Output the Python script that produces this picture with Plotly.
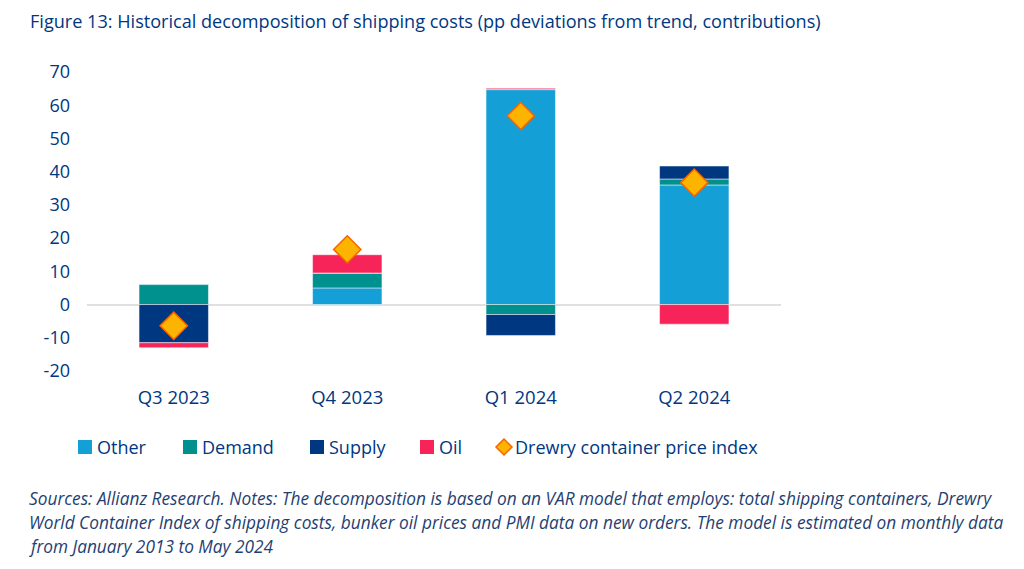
import plotly.graph_objects as go

categories = ["Q3 2023", "Q4 2023", "Q1 2024", "Q2 2024"]
other = [0.0, 5.0, 64.7, 36.0]
demand = [6.0, 4.5, -3.0, 1.8]
supply = [-11.5, 0.0, -6.3, 3.9]
oil = [-1.5, 5.5, 0.4, -5.9]
drewry = [-6.4, 16.6, 56.8, 36.7]

y_tickvals = [-20, -10, 0, 10, 20, 30, 40, 50, 60, 70]
y_ticktext = ["-20", "-10", "0", "10", "20", "30", "40", "50", "60", "70"]

series_names = ["Other", "Demand", "Supply", "Oil"]
series_colors = ["#149FD6", "#00908D", "#003781", "#F62459"]
drewry_name = "Drewry container price index"
title_text = "Figure 13: Historical decomposition of shipping costs (pp deviations from trend, contributions)"

NAVY = "#003781"
FONT = "Open Sans"
OFF = 8  # page body margin offset

# reference pixel geometry of plot area
PL, PR, PT, PB = 87, 781, 72, 371
plot_w, plot_h = PR - PL, PB - PT


def px(x):
    return (x - PL) / plot_w


def py(y):
    return (PB - y) / plot_h


fig = go.Figure()
for name, vals, col in zip(series_names, [other, demand, supply, oil], series_colors):
    fig.add_trace(go.Bar(x=categories, y=vals, name=name, showlegend=False,
                         marker=dict(color=col, line=dict(color="white", width=0.5))))
fig.add_trace(go.Scatter(x=categories, y=drewry, mode="markers", name=drewry_name, showlegend=False,
                         marker=dict(symbol="diamond", size=21, color="#FDB400",
                                     line=dict(color="#F86200", width=1.5))))

shapes = []
ann = []
# title
ann.append(dict(text=title_text, xref="paper", yref="paper", x=px(28), y=py(21),
                xanchor="left", yanchor="middle", showarrow=False,
                font=dict(family=FONT, size=18.1, color=NAVY)))
# custom legend
sym_x = [78, 183, 310, 420]
ly = 447
for sx, name, col in zip(sym_x, series_names, series_colors):
    shapes.append(dict(type="rect", xref="paper", yref="paper", x0=px(sx), x1=px(sx + 14),
                       y0=py(ly + 7), y1=py(ly - 7), fillcolor=col, line=dict(width=0)))
    ann.append(dict(text=name, xref="paper", yref="paper", x=px(sx + 17), y=py(ly),
                    xanchor="left", yanchor="middle", showarrow=False,
                    font=dict(family=FONT, size=18, color=NAVY)))
dx = 504
shapes.append(dict(type="path", xref="paper", yref="paper",
                   path=f"M {px(dx - 8)} {py(ly)} L {px(dx)} {py(ly - 8)} L {px(dx + 8)} {py(ly)} L {px(dx)} {py(ly + 8)} Z",
                   fillcolor="#FDB400", line=dict(color="#F86200", width=1.5)))
ann.append(dict(text=drewry_name, xref="paper", yref="paper", x=px(513), y=py(ly),
                xanchor="left", yanchor="middle", showarrow=False,
                font=dict(family=FONT, size=18, color=NAVY)))

notes = [
    "Sources: Allianz Research. Notes: The decomposition is based on an VAR model that employs: total shipping containers, Drewry",
    "World Container Index of shipping costs, bunker oil prices and PMI data on new orders. The model is estimated on monthly data",
    "from January 2013 to May 2024",
]
for i, t in enumerate(notes):
    ypix = 498 + 24 * i
    ann.append(dict(text=t, xref="paper", yref="paper", x=px(27), y=py(ypix),
                    xanchor="left", yanchor="middle", showarrow=False,
                    font=dict(family=FONT, size=17.3, color="#1F3F73", style="italic")))

fig.update_layout(
    width=1024, height=569,
    margin=dict(l=PL - OFF, r=1024 - PR + OFF, t=PT - OFF, b=569 - PB + OFF),
    paper_bgcolor="white", plot_bgcolor="white",
    barmode="relative", bargap=0.6,
    font=dict(family=FONT, size=18, color=NAVY),
    xaxis=dict(showgrid=False, showline=False, ticks="", tickfont=dict(size=18.5, color=NAVY),
               ticklabelstandoff=13),
    yaxis=dict(range=[-20, 70], tickmode="array", tickvals=y_tickvals, ticktext=y_ticktext,
               showgrid=False, showline=False,
               zeroline=True, zerolinecolor="#E0E0E0", zerolinewidth=2,
               tickfont=dict(size=18, color=NAVY), ticklabelstandoff=16),
    showlegend=False,
    shapes=shapes,
    annotations=ann,
)

fig.write_html("out.html")
